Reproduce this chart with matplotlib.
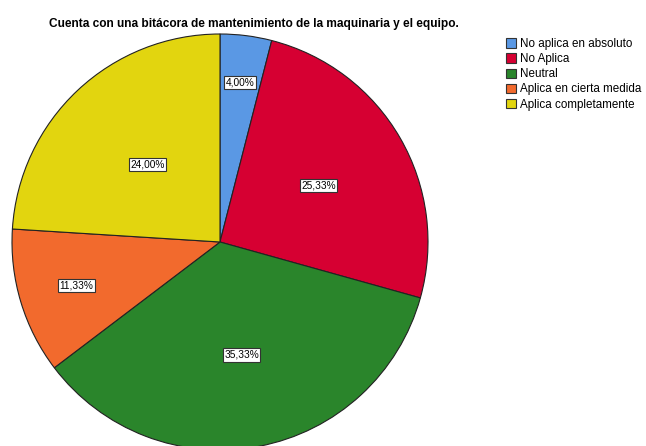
import numpy as np
import matplotlib
matplotlib.use("Agg")
import matplotlib.pyplot as plt

plt.rcParams["font.family"] = ["Liberation Sans", "DejaVu Sans"]

categories = [
    "No aplica en absoluto",
    "No Aplica",
    "Neutral",
    "Aplica en cierta medida",
    "Aplica completamente",
]
percentages = [4.00, 25.33, 35.33, 11.33, 24.00]
colors = ["#5a98e4", "#d60032", "#2a852b", "#f26a2d", "#e2d50f"]
# radial position of each percentage label, as a fraction of the radius
label_dist = [0.775, 0.546, 0.553, 0.722, 0.511]

title = "Cuenta con una bitácora de mantenimiento de la maquinaria y el equipo."

W, H = 646, 446
fig = plt.figure(figsize=(W / 100, H / 100), dpi=100)

cx, cy, R = 220, 242, 208
ax = fig.add_axes([(cx - R) / W, (H - cy - R) / H, 2 * R / W, 2 * R / H])
wedges, _ = ax.pie(
    percentages,
    colors=colors,
    startangle=90,
    counterclock=False,
    radius=1,
    wedgeprops=dict(edgecolor="#222222", linewidth=0.8),
)
ax.set_xlim(-1, 1)
ax.set_ylim(-1, 1)
ax.set_aspect("equal")
ax.axis("off")

for w, pct, d in zip(wedges, percentages, label_dist):
    mid = np.deg2rad((w.theta1 + w.theta2) / 2)
    ax.text(
        d * np.cos(mid), d * np.sin(mid),
        f"{pct:.2f}%".replace(".", ","),
        ha="center", va="center", fontsize=7.3,
        bbox=dict(boxstyle="square,pad=0.15", facecolor="white",
                  edgecolor="#333333", linewidth=0.8),
    )

fig.text(254 / W, 1 - 24 / H, title, ha="center", va="center",
         fontsize=8.6, fontweight="bold")

leg = fig.legend(
    wedges, categories,
    loc="upper left", bbox_to_anchor=(506 / W, 1 - 38 / H),
    frameon=False, fontsize=8.4,
    handlelength=0.85, handleheight=0.85, handletextpad=0.35,
    labelspacing=0.27, borderpad=0, borderaxespad=0,
)
for p in leg.get_patches():
    p.set_edgecolor("#333333")
    p.set_linewidth(0.8)

fig.savefig("out.png", dpi=100)
